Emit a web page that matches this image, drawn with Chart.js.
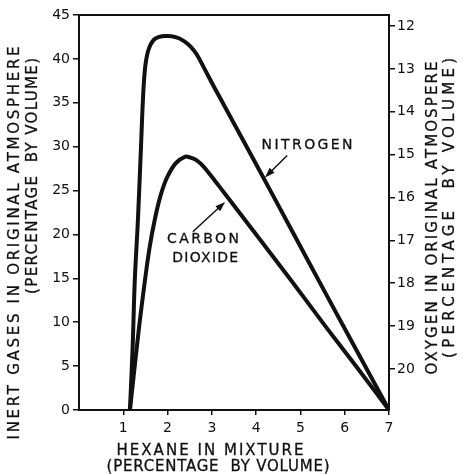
<!DOCTYPE html>
<html>
<head>
<meta charset="utf-8">
<script src="https://cdn.jsdelivr.net/npm/chart.js@4/dist/chart.umd.min.js"></script>
<style>
    html, body { margin: 0; padding: 0; background: #fff; }
    #wrap { position: relative; width: 463px; height: 474px; }
</style>
</head>
<body>
<div id="wrap"><canvas id="hexaneChart"></canvas></div>
<script>
// values
const nitrogenHexane = [1.15, 1.21, 1.26, 1.33, 1.40, 1.45, 1.50, 1.58, 1.72, 1.95, 2.20, 2.38, 2.52, 2.66, 2.82, 3.05, 3.30, 4.00, 4.80, 5.60, 6.30, 7.0];
const nitrogenInert = [0, 7, 14.8, 21.6, 30, 36, 39.3, 41.2, 42.3, 42.6, 42.45, 42.0, 41.4, 40.5, 39.0, 36.8, 34.5, 28.0, 20.5, 13.0, 6.5, 0];

const carbonHexane = [1.15, 1.25, 1.36, 1.49, 1.60, 1.72, 1.84, 1.98, 2.18, 2.39, 2.52, 2.64, 2.76, 2.95, 3.30, 4.00, 4.80, 5.60, 6.30, 7.0];
const carbonInert = [0, 4.6, 9.6, 14.8, 18.7, 21.9, 24.4, 26.4, 28.1, 28.85, 28.75, 28.5, 28.0, 26.9, 24.6, 20.0, 14.7, 9.3, 4.7, 0];

const hexaneTicks = [1, 2, 3, 4, 5, 6, 7];
const inertTicks = [0, 5, 10, 15, 20, 25, 30, 35, 40, 45];
const oxygenTicks = [12, 13, 14, 15, 16, 17, 18, 19, 20];
const oxygenAtTop = 11.74;
const oxygenAtBottom = 20.96;

document.addEventListener("DOMContentLoaded", function () {
    const FONT = '"DejaVu Sans", sans-serif';
    const INK = '#111';

    function toPoints(xs, ys) {
        return xs.map((x, i) => ({ x: x, y: ys[i] }));
    }

    // draw text stretched to a given length (hand lettering is widely spaced)
    function spacedText(ctx, text, cx, cy, length, size) {
        ctx.save();
        ctx.font = size + 'px ' + FONT;
        ctx.letterSpacing = '0px';
        const plain = ctx.measureText(text).width;
        const gap = (length - plain) / (text.length - 1);
        ctx.letterSpacing = gap + 'px';
        ctx.textAlign = 'left';
        ctx.textBaseline = 'middle';
        ctx.fillStyle = INK;
        ctx.strokeStyle = INK;
        ctx.lineWidth = 0.3;
        ctx.fillText(text, cx - length / 2, cy);
        ctx.strokeText(text, cx - length / 2, cy);
        ctx.restore();
    }

    function verticalText(ctx, text, cx, cy, length, size) {
        ctx.save();
        ctx.translate(cx, cy);
        ctx.rotate(-Math.PI / 2);
        spacedText(ctx, text, 0, 0, length, size);
        ctx.restore();
    }

    function arrow(ctx, x1, y1, x2, y2) {
        const ang = Math.atan2(y2 - y1, x2 - x1);
        ctx.save();
        ctx.strokeStyle = INK;
        ctx.fillStyle = INK;
        ctx.lineWidth = 1.5;
        ctx.beginPath();
        ctx.moveTo(x1, y1);
        ctx.lineTo(x2 - 6 * Math.cos(ang), y2 - 6 * Math.sin(ang));
        ctx.stroke();
        ctx.beginPath();
        ctx.moveTo(x2, y2);
        ctx.lineTo(x2 - 10 * Math.cos(ang) + 3.5 * Math.sin(ang), y2 - 10 * Math.sin(ang) - 3.5 * Math.cos(ang));
        ctx.lineTo(x2 - 10 * Math.cos(ang) - 3.5 * Math.sin(ang), y2 - 10 * Math.sin(ang) + 3.5 * Math.cos(ang));
        ctx.closePath();
        ctx.fill();
        ctx.restore();
    }

    const annotations = {
        id: 'annotations',
        afterDraw(chart) {
            const ctx = chart.ctx;
            const xs = chart.scales.x;
            const ys = chart.scales.y;
            const area = chart.chartArea;

            // frame top edge
            ctx.save();
            ctx.strokeStyle = INK;
            ctx.lineWidth = 2;
            ctx.beginPath();
            ctx.moveTo(area.left - 1, area.top);
            ctx.lineTo(area.right + 1, area.top);
            ctx.stroke();
            ctx.restore();

            // curve labels
            spacedText(ctx, 'NITROGEN', xs.getPixelForValue(5.15), ys.getPixelForValue(30.1), 91, 14);
            arrow(ctx, xs.getPixelForValue(4.70), ys.getPixelForValue(29.0), xs.getPixelForValue(4.20), ys.getPixelForValue(26.5));
            spacedText(ctx, 'CARBON', xs.getPixelForValue(2.80), ys.getPixelForValue(19.4), 72, 14);
            spacedText(ctx, 'DIOXIDE', xs.getPixelForValue(2.85), ys.getPixelForValue(17.3), 66, 14);
            arrow(ctx, xs.getPixelForValue(2.57), ys.getPixelForValue(20.3), xs.getPixelForValue(3.30), ys.getPixelForValue(23.7));

            // axis titles
            verticalText(ctx, 'INERT GASES IN ORIGINAL ATMOSPHERE', 15, 243, 393, 15);
            verticalText(ctx, '(PERCENTAGE  BY VOLUME)', 33, 176, 236, 15);
            verticalText(ctx, 'OXYGEN IN ORIGINAL ATMOSPERE', 433, 218, 313, 15);
            verticalText(ctx, '(PERCENTAGE  BY VOLUME)', 450, 208, 300, 15);
            spacedText(ctx, 'HEXANE IN MIXTURE', 210, 451, 187, 15);
            spacedText(ctx, '(PERCENTAGE  BY VOLUME)', 218, 467, 223, 15);
        }
    };

    const tickFont = { family: FONT, size: 14 };

    const ctx = document.getElementById('hexaneChart');
    new Chart(ctx, {
        type: 'line',
        data: {
            datasets: [{
                label: 'Nitrogen',
                data: toPoints(nitrogenHexane, nitrogenInert),
                borderColor: INK,
                borderWidth: 4,
                pointRadius: 0,
                tension: 0.35,
                fill: false
            }, {
                label: 'Carbon dioxide',
                data: toPoints(carbonHexane, carbonInert),
                borderColor: INK,
                borderWidth: 4,
                pointRadius: 0,
                tension: 0.35,
                fill: false
            }]
        },
        options: {
            responsive: true,
            maintainAspectRatio: false,
            animation: false,
            layout: { padding: { top: 15, left: 0, right: 0, bottom: 0 } },
            plugins: {
                legend: { display: false },
                tooltip: { enabled: false }
            },
            scales: {
                x: {
                    type: 'linear',
                    min: 0,
                    max: 7,
                    afterBuildTicks: axis => { axis.ticks = hexaneTicks.map(v => ({ value: v })); },
                    afterFit: axis => { axis.height = 64; },
                    ticks: { color: INK, font: tickFont, padding: 5, maxRotation: 0 },
                    grid: { drawOnChartArea: false, tickLength: 5, color: INK, lineWidth: 1.5 },
                    border: { color: INK, width: 2 }
                },
                y: {
                    type: 'linear',
                    position: 'left',
                    min: 0,
                    max: 45,
                    afterBuildTicks: axis => { axis.ticks = inertTicks.map(v => ({ value: v })); },
                    afterFit: axis => { axis.width = 79; },
                    ticks: { color: INK, font: tickFont, padding: 3 },
                    grid: { drawOnChartArea: false, tickLength: 6, color: INK, lineWidth: 1.5 },
                    border: { color: INK, width: 2 }
                },
                oxygen: {
                    type: 'linear',
                    position: 'right',
                    reverse: true,
                    min: oxygenAtTop,
                    max: oxygenAtBottom,
                    afterBuildTicks: axis => { axis.ticks = oxygenTicks.map(v => ({ value: v })); },
                    afterFit: axis => { axis.width = 74; },
                    ticks: { color: INK, font: tickFont, padding: 2 },
                    grid: { drawOnChartArea: false, tickLength: 6, color: INK, lineWidth: 1.5 },
                    border: { color: INK, width: 2 }
                }
            }
        },
        plugins: [annotations]
    });
});
</script>
</body>
</html>
